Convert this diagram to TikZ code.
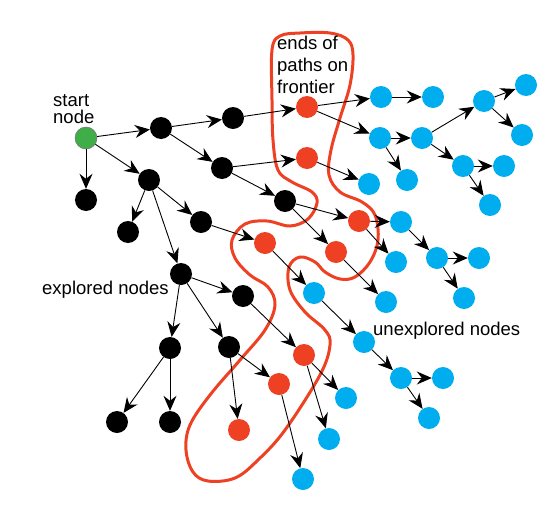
\documentclass[tikz,border=0pt]{standalone}
\usepackage{fontspec}
\setmainfont{Liberation Sans}
\usetikzlibrary{arrows.meta}
\definecolor{fred}{HTML}{EE4124}
\definecolor{fblue}{HTML}{00AEEF}
\definecolor{fgreen}{HTML}{3FAE49}
\tikzset{
  dot/.style={circle,inner sep=0pt,minimum size=22pt},
  bk/.style={dot,fill=black},
  rd/.style={dot,fill=fred},
  bl/.style={dot,fill=fblue},
  gr/.style={dot,fill=fgreen,draw=black!55,line width=0.5pt},
  arr/.style={draw=black,line width=0.9pt,-{Stealth[length=15pt,width=13pt,inset=5pt]}},
  lbl/.style={inner sep=0pt,font=\fontsize{18.5}{21.7}\selectfont,align=left},
}
\begin{document}
\begin{tikzpicture}[x=1pt,y=-1pt]
\useasboundingbox (0,0) rectangle (560,517);
% frontier curve
\draw[fred,line width=3pt] plot[smooth cycle,tension=0.6] coordinates {
 (272,50) (280,36) (300,33) (330,33) (348,40) (353,55) (350,85) (340,118) (331,150)
 (329,175) (340,192) (362,202) (375,215) (378,240) (370,262) (355,277) (340,279)
 (325,272) (315,262) (300,257) (289,267) (290,290) (305,312) (325,330) (330,345)
 (320,375) (285,430) (258,460) (235,478) (208,481) (193,472) (186,450) (190,425)
 (210,395) (240,360) (265,330) (275,305) (268,287) (250,275) (235,258) (232,240)
 (245,224) (267,221) (290,226) (308,219) (317,203) (312,192) (292,182) (278,170)
 (273,140) (272,100)};
% nodes
\node[gr] (s) at (86,138) {};
\node[bk] (b1) at (161,128) {};
\node[bk] (b2) at (233,118) {};
\node[bk] (b3) at (86,200) {};
\node[bk] (b4) at (149,180) {};
\node[bk] (b5) at (222,168) {};
\node[bk] (b6) at (128,232) {};
\node[bk] (b7) at (201,222) {};
\node[bk] (b8) at (285,201) {};
\node[bk] (b9) at (181,274) {};
\node[bk] (b10) at (243,296) {};
\node[bk] (b11) at (170,348) {};
\node[bk] (b12) at (229,347) {};
\node[bk] (b13) at (117,422) {};
\node[bk] (b14) at (170,422) {};
\node[rd] (r1) at (307,107) {};
\node[rd] (r2) at (307,158) {};
\node[rd] (r3) at (359,221) {};
\node[rd] (r4) at (265,243) {};
\node[rd] (r5) at (336,252) {};
\node[rd] (r6) at (304,355) {};
\node[rd] (r7) at (279,384) {};
\node[rd] (r8) at (239,430) {};
\node[bl] (c1) at (381,97) {};
\node[bl] (c2) at (433,97) {};
\node[bl] (c3) at (380,138) {};
\node[bl] (c4) at (422,138) {};
\node[bl] (c5) at (407,180) {};
\node[bl] (c6) at (369,184) {};
\node[bl] (c7) at (484,101) {};
\node[bl] (c8) at (526,85) {};
\node[bl] (c9) at (522,135) {};
\node[bl] (c10) at (463,166) {};
\node[bl] (c11) at (504,166) {};
\node[bl] (c12) at (490,205) {};
\node[bl] (c13) at (401,222) {};
\node[bl] (c14) at (396,262) {};
\node[bl] (c15) at (437,258) {};
\node[bl] (c16) at (479,258) {};
\node[bl] (c17) at (464,298) {};
\node[bl] (c18) at (386,302) {};
\node[bl] (c19) at (314,293) {};
\node[bl] (c20) at (364,342) {};
\node[bl] (c21) at (401,378) {};
\node[bl] (c22) at (443,378) {};
\node[bl] (c23) at (429,418) {};
\node[bl] (c24) at (346,398) {};
\node[bl] (c25) at (329,439) {};
\node[bl] (c26) at (303,479) {};
% edges
\foreach \a/\b in {s/b1,s/b3,s/b4,b1/b2,b1/b5,b2/r1,r1/c1,r1/c3,c1/c2,c3/c4,c3/c5,
  c4/c7,c4/c10,c7/c8,c7/c9,c10/c11,c10/c12,b5/r2,b5/b8,r2/c6,b8/r3,b8/r5,r3/c13,r3/c14,
  c13/c15,c15/c16,c15/c17,r5/c18,b4/b6,b4/b7,b4/b9,b7/r4,r4/c19,c19/c20,c20/c21,
  c21/c22,c21/c23,b9/b10,b9/b11,b9/b12,b10/r6,r6/c24,r6/c25,b12/r7,b12/r8,r7/c26,
  b11/b13,b11/b14}
  \draw[arr] (\a) -- (\b);
% labels
\node[lbl,anchor=base west,font=\fontsize{18.5}{17}\selectfont] (tstart) at (53,123) {start\\node};
\node[lbl,anchor=base west] (texpl) at (42,294) {explored nodes};
\node[lbl,anchor=base west] (tends) at (277,93) {ends of\\paths on\\frontier};
\node[lbl,anchor=base west] (tunex) at (373,335) {unexplored nodes};
\end{tikzpicture}
\end{document}
